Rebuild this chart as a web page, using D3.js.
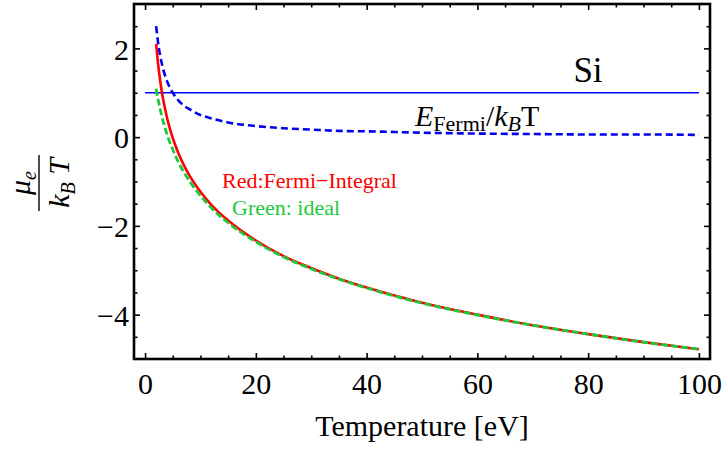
<!DOCTYPE html>
<html>
<head>
<meta charset="utf-8">
<script src="https://cdn.jsdelivr.net/npm/d3@7"></script>
<style>
  html, body { margin: 0; padding: 0; background: #fff; }
  svg { display: block; font-family: "Liberation Serif", "DejaVu Serif", serif; }
</style>
</head>
<body>
<svg id="chart" width="728" height="453"></svg>
<script>
// Temperature samples [eV]
const temperature = [2, 2.25, 2.5, 3, 3.5, 4, 4.5, 5, 6, 7, 8, 10, 12, 15, 20, 25, 30, 35, 40, 50, 60, 70, 80, 90, 100];
// mu_e / k_B T from the Fermi integral
const fermiIntegral = [2.10, 1.77, 1.49, 1.04, 0.70, 0.42, 0.18, -0.02, -0.36, -0.63, -0.86, -1.23, -1.53, -1.88, -2.33, -2.68, -2.95, -3.19, -3.39, -3.73, -4.00, -4.24, -4.44, -4.62, -4.78];
// mu_e / k_B T for the ideal (classical) gas
const idealGas = [1.09, 0.91, 0.76, 0.48, 0.25, 0.05, -0.13, -0.28, -0.56, -0.79, -0.99, -1.32, -1.60, -1.93, -2.36, -2.70, -2.97, -3.20, -3.40, -3.74, -4.01, -4.24, -4.44, -4.62, -4.78];
// E_Fermi / k_B T
const fermiRatio = [2.50, 2.22, 2.00, 1.67, 1.43, 1.25, 1.11, 1.00, 0.83, 0.71, 0.63, 0.50, 0.42, 0.33, 0.25, 0.20, 0.17, 0.14, 0.13, 0.10, 0.08, 0.07, 0.06, 0.06, 0.05];
// Reference level line for Si
const siRange = [0, 100];
const siLevel = 1;

const xMajorTicks = [0, 20, 40, 60, 80, 100];
const yMajorTicks = [-4, -2, 0, 2];

const svg = d3.select("#chart");
const plotLeft = 134, plotRight = 710, plotTop = 4, plotBottom = 359;

const x = d3.scaleLinear().domain([-2, 102]).range([plotLeft, plotRight]);
const y = d3.scaleLinear().domain([-5, 3]).range([plotBottom, plotTop]);

svg.append("defs").append("clipPath").attr("id", "plotClip")
  .append("rect").attr("x", plotLeft).attr("y", plotTop)
  .attr("width", plotRight - plotLeft).attr("height", plotBottom - plotTop);

const plot = svg.append("g").attr("clip-path", "url(#plotClip)");

const line = d3.line()
  .x(d => x(d[0]))
  .y(d => y(d[1]))
  .curve(d3.curveMonotoneX);

// Si level
plot.append("path")
  .datum(siRange.map(t => [t, siLevel]))
  .attr("d", d3.line().x(d => x(d[0])).y(d => y(d[1])))
  .attr("fill", "none").attr("stroke", "#0000ff").attr("stroke-width", 1.3);

// E_Fermi / k_B T
plot.append("path")
  .datum(temperature.map((t, i) => [t, fermiRatio[i]]))
  .attr("d", line)
  .attr("fill", "none").attr("stroke", "#0000ee").attr("stroke-width", 2.6)
  .attr("stroke-dasharray", "7,4");

// Fermi integral
plot.append("path")
  .datum(temperature.map((t, i) => [t, fermiIntegral[i]]))
  .attr("d", line)
  .attr("fill", "none").attr("stroke", "#ff0000").attr("stroke-width", 2.6);

// Ideal gas
plot.append("path")
  .datum(temperature.map((t, i) => [t, idealGas[i]]))
  .attr("d", line)
  .attr("fill", "none").attr("stroke", "#1ec83c").attr("stroke-width", 2.8)
  .attr("stroke-dasharray", "7,3");

// Frame ticks (inside, on all four sides)
const xMinor = d3.range(0, 101, 5).filter(v => !xMajorTicks.includes(v));
const yMinor = d3.range(-5, 3.01, 0.5).filter(v => !yMajorTicks.includes(v) && v > -5 && v < 3);

function styleAxis(g) {
  g.select(".domain").remove();
  g.selectAll(".tick line").attr("stroke", "#000").attr("stroke-width", 1.6);
  g.selectAll(".tick text")
    .attr("fill", "#000")
    .style("font-family", "'Liberation Serif', serif")
    .style("font-size", "30px");
}

// bottom
svg.append("g").attr("transform", `translate(0,${plotBottom})`)
  .call(d3.axisBottom(x).tickValues(xMajorTicks).tickSize(-6).tickPadding(14).tickFormat(d3.format("d")))
  .call(styleAxis)
  .call(g => g.selectAll(".tick text").attr("dy", "0.71em").attr("y", 14));
svg.append("g").attr("transform", `translate(0,${plotBottom})`)
  .call(d3.axisBottom(x).tickValues(xMinor).tickSize(-3.5).tickFormat(""))
  .call(styleAxis);
// top
svg.append("g").attr("transform", `translate(0,${plotTop})`)
  .call(d3.axisTop(x).tickValues(xMajorTicks).tickSize(-6).tickFormat(""))
  .call(styleAxis);
svg.append("g").attr("transform", `translate(0,${plotTop})`)
  .call(d3.axisTop(x).tickValues(xMinor).tickSize(-3.5).tickFormat(""))
  .call(styleAxis);
// left
svg.append("g").attr("transform", `translate(${plotLeft},0)`)
  .call(d3.axisLeft(y).tickValues(yMajorTicks).tickSize(-6).tickPadding(6).tickFormat(d3.format("d")))
  .call(styleAxis)
  .call(g => g.selectAll(".tick text").attr("x", -5).attr("dy", "0.36em"));
svg.append("g").attr("transform", `translate(${plotLeft},0)`)
  .call(d3.axisLeft(y).tickValues(yMinor).tickSize(-3.5).tickFormat(""))
  .call(styleAxis);
// right
svg.append("g").attr("transform", `translate(${plotRight},0)`)
  .call(d3.axisRight(y).tickValues(yMajorTicks).tickSize(-6).tickFormat(""))
  .call(styleAxis);
svg.append("g").attr("transform", `translate(${plotRight},0)`)
  .call(d3.axisRight(y).tickValues(yMinor).tickSize(-3.5).tickFormat(""))
  .call(styleAxis);

// frame
svg.append("rect")
  .attr("x", plotLeft).attr("y", plotTop)
  .attr("width", plotRight - plotLeft).attr("height", plotBottom - plotTop)
  .attr("fill", "none").attr("stroke", "#000").attr("stroke-width", 2.6);

// x-axis title
svg.append("text")
  .attr("x", (plotLeft + plotRight) / 2).attr("y", 436)
  .attr("text-anchor", "middle")
  .style("font-size", "30px")
  .text("Temperature [eV]");

// y-axis title: mu_e / (k_B T) as a fraction
const yTitle = svg.append("g").attr("transform", "translate(39,183) rotate(-90)");
const num = yTitle.append("text").attr("x", 0).attr("y", -9)
  .attr("text-anchor", "middle").style("font-size", "30px");
num.append("tspan").style("font-style", "italic").text("μ");
num.append("tspan").style("font-style", "italic").style("font-size", "20px").attr("dy", 6).text("e");
yTitle.append("line").attr("x1", -28).attr("x2", 28).attr("y1", 0).attr("y2", 0)
  .attr("stroke", "#000").attr("stroke-width", 1.4);
const den = yTitle.append("text").attr("x", 0).attr("y", 30)
  .attr("text-anchor", "middle").style("font-size", "30px");
den.append("tspan").style("font-style", "italic").text("k");
den.append("tspan").style("font-style", "italic").style("font-size", "20px").attr("dy", 6).text("B");
den.append("tspan").style("font-style", "italic").attr("dy", -6).text(" T");

// annotations
svg.append("text")
  .attr("x", 588).attr("y", 82).attr("text-anchor", "middle")
  .style("font-size", "35px").text("Si");

const ef = svg.append("text").attr("x", 415).attr("y", 126).style("font-size", "30px");
ef.append("tspan").style("font-style", "italic").text("E");
ef.append("tspan").style("font-size", "22px").attr("dy", 5).text("Fermi");
ef.append("tspan").attr("dy", -5).text("/");
ef.append("tspan").style("font-style", "italic").text("k");
ef.append("tspan").style("font-style", "italic").style("font-size", "22px").attr("dy", 5).text("B");
ef.append("tspan").attr("dy", -5).text("T");

svg.append("text").attr("x", 222).attr("y", 188)
  .attr("fill", "#ff0000").style("font-size", "22px").text("Red:Fermi\u2212Integral");
svg.append("text").attr("x", 232).attr("y", 215)
  .attr("fill", "#1ec83c").style("font-size", "22px").text("Green: ideal");
</script>
</body>
</html>
